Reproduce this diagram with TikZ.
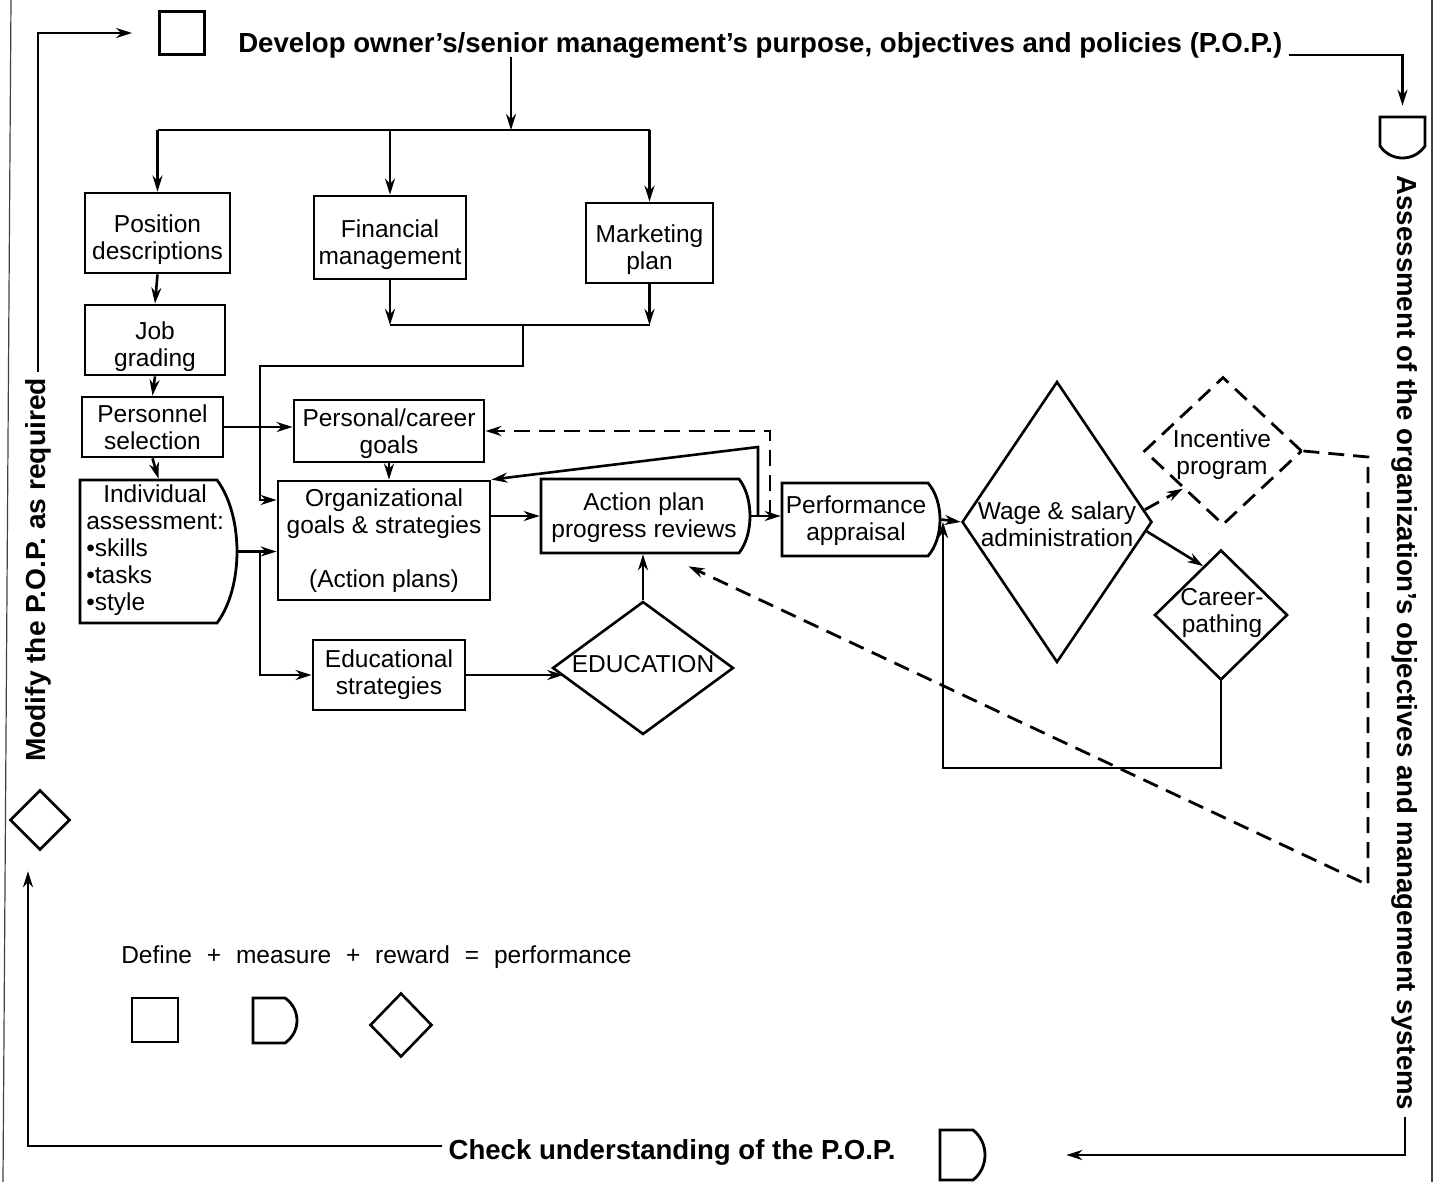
\documentclass[tikz,border=0pt]{standalone}
\usepackage{fontspec}
\setmainfont{Liberation Sans}
\usetikzlibrary{shapes.geometric,arrows.meta}
% D-shape with a bulge on the right
\newcommand\Dnode[6]{%
  \draw[line width=2.8pt] (#2,#3) -- ({#4-#6},#3) .. controls ({#4+#6/3},{#3+(#5-#3)/4}) and ({#4+#6/3},{#5-(#5-#3)/4}) .. ({#4-#6},#5) -- (#2,#5) -- cycle;
  \node[inner sep=0pt, minimum width={(#4-#2)*1pt}, minimum height={(#5-#3)*1pt}] (#1) at ({(#2+#4)/2},{(#3+#5)/2}) {};}
\begin{document}
\begin{tikzpicture}[x=1pt,y=-1pt,line width=2.6pt,
  box/.style={draw,line width=2.8pt,inner sep=0pt,align=center,font=\fontsize{24.5}{27}\selectfont},
  txt/.style={inner sep=0pt,align=center,font=\fontsize{24.5}{27}\selectfont},
  big/.style={inner sep=5pt,font=\fontsize{27.6}{32}\selectfont\bfseries},
  dia/.style={draw,diamond,line width=2.6pt,inner sep=0pt},
  arr/.style={-{Stealth[length=16pt,width=10pt]}},
  dsh/.style={line width=2.8pt,dash pattern=on 16pt off 9pt},
  pageedge/.style={line width=1.2pt,draw=black!75}]
\useasboundingbox (0,0) rectangle (1437,1182);

% page edges of the scan
\draw[pageedge] (11,0) -- (3,1182);
\draw[pageedge] (1432,0) -- (1432,1182);

% ---- outer loop ----
\node[box, minimum width=45pt, minimum height=43pt] (sq) at (182,33) {};
\node[big, anchor=west] (title) at (232,45) {Develop owner’s/senior management’s purpose, objectives and policies (P.O.P.)};
% top right D (bulge downward)
\draw[line width=2.8pt] (1380,146) -- (1380,117) -- (1425,117) -- (1425,146) .. controls (1414,162) and (1391,162) .. cycle;
\node[inner sep=0pt, minimum width=45pt, minimum height=41pt] (tD) at (1402.5,137.5) {};
\node[big, rotate=-90] (assess) at (1405,643) {Assessment of the organization’s objectives and management systems};
\Dnode{cD}{940}{1130}{985}{1180}{12}
\node[big] (check) at (672,1152) {Check understanding of the P.O.P.};
\node[dia, minimum width=60pt, minimum height=60pt] (ldia) at (40,820) {};
\node[big, rotate=90] (mod) at (38,570) {\scalebox{1.02}[1]{Modify the P.O.P. as required}};

\draw[arr] (mod.east) |- ([xshift=-26pt]sq.west);
\draw[arr] ([yshift=-10pt]title.east) -| ([yshift=10pt]tD.north);
\draw[arr] (assess.east) |- ([xshift=80pt]cD.east);
\draw[arr] ([yshift=6pt]check.west) -| ([xshift=-12pt,yshift=-20pt]ldia.south);

% ---- boxes ----
\node[box, minimum width=145pt, minimum height=80pt] (pos) at (157.5,233) {\rule{0pt}{32pt}Position\\descriptions};
\node[box, minimum width=152pt, minimum height=83pt] (fin) at (390,237.5) {\rule{0pt}{32pt}Financial\\management};
\node[box, minimum width=127pt, minimum height=80pt] (mkt) at (649.5,243) {\rule{0pt}{32pt}Marketing\\plan};
\node[box, minimum width=140pt, minimum height=70pt] (job) at (155,340) {\rule{0pt}{32pt}Job\\grading};
\node[box, minimum width=141pt, minimum height=60pt] (pers) at (152.5,427) {Personnel\\selection};
\node[box, minimum width=190pt, minimum height=62pt] (pc) at (389,431) {\rule{0pt}{24pt}Personal/career\\goals};
\node[box, minimum width=212pt, minimum height=119pt] (org) at (384,540.5) {Organizational\\goals \& strategies\\[27pt](Action plans)};
\node[box, minimum width=152pt, minimum height=70pt] (edu) at (389,675) {Educational\\strategies};

\Dnode{indiv}{80}{480}{237}{623}{20}
\node[txt, align=left, anchor=north west] (indivt) at (85,483) {\hspace{17pt}Individual\\assessment:\\•skills\\•tasks\\•style};
\Dnode{act}{541}{479}{750}{553}{11}
\node[txt] (actt) at (644,518) {Action plan\\progress reviews};
\Dnode{perf}{782}{483}{940}{556}{12}
\node[txt] (perft) at (856,521) {Performance\\appraisal};

% ---- diamonds ----
\node[dia, minimum width=190pt, minimum height=281pt] (wage) at (1057,522) {};
\node[txt] (waget) at (1057,524) {Wage \& salary\\administration};
\node[dia, dsh, minimum width=158pt, minimum height=148pt] (inc) at (1223,451) {};
\node[txt] (inct) at (1222,455) {Incentive\\program};
\node[dia, minimum width=133pt, minimum height=130pt] (car) at (1221,615) {};
\node[txt] (cart) at (1222,613) {Career-\\pathing};
\node[dia, minimum width=181pt, minimum height=133pt] (educ) at (643,668) {};
\node[txt] (educt) at (643,664) {EDUCATION};

% ---- legend ----
\node[txt, anchor=west] (legend) at (120,957) {Define\hspace{8pt} + \hspace{8pt}measure\hspace{8pt} + \hspace{8pt}reward\hspace{8pt} = \hspace{8pt}performance};
\node[box, minimum width=46pt, minimum height=44pt] (lsq) at (155,1020) {};
\Dnode{lD}{253}{998}{297}{1043}{12}
\node[dia, minimum width=62pt, minimum height=64pt] (ldi) at (401,1025) {};

% ---- connectors ----
\coordinate (j0) at (511,57);
\coordinate (j1) at (511,130);
\draw[arr] (j0) -- (j1);
\draw (pos.north |- j1) -- (mkt.north |- j1);
\draw[arr] (pos.north |- j1) -- (pos.north);
\draw[arr] (fin.north |- j1) -- (fin.north);
\draw[arr] (mkt.north |- j1) -- (mkt.north);

\coordinate (j2) at (523,325);
\coordinate (j3) at (260,366);
\draw[arr] (fin.south) -- (fin.south |- j2);
\draw[arr] (mkt.south) -- (mkt.south |- j2);
\draw (fin.south |- j2) -- (mkt.south |- j2);
\draw[arr] (j2) |- (j3) -- (j3 |- 0,500) -- (org.west |- 0,500);

\draw[arr] (pos.south) -- (job.north);
\draw[arr] (job.south) -- (pers.north);
\draw[arr] (pers.south) -- (indiv.north);
\draw[arr] (pers.east) -- (pers.east -| pc.west);
\draw[arr] (pc.south) -- (pc.south |- org.north);
\draw[arr] (indiv.east) -- (indiv.east -| org.west);
\coordinate (j4) at (indiv.east -| j3);
\draw[arr] (j4) |- (edu.west);
\draw[arr] (act.west -| org.east) -- (act.west);
\draw[arr] (act.east) -- (act.east -| perf.west);

\coordinate (j5) at (758,516);
\coordinate (j6) at (758,447);
\draw[arr] (j5) -- (j6) -- (org.north east);
\coordinate (j7) at (770,516);
\draw[arr, dsh] (j7) |- (pc.east);

\draw[arr] (perf.east) -- (wage.west);
\coordinate (j8) at (943,768);
\draw[arr] (car.south) |- (j8) -- (j8 |- wage.west);
\draw[arr, dsh] (wage.8) -- (inc.south west);
\draw[arr] (wage.-6) -- (car.110);

\coordinate (j9) at (1368,457);
\coordinate (j10) at (1368,885);
\draw[arr, dsh] (inc.east) -- (j9) -- (j10) -- ([xshift=43pt,yshift=-12pt]act.south);

\draw[arr] (edu.east) -- ([xshift=12pt]edu.east -| educ.west);
\draw[arr] (educ.north) -- (educ.north |- act.south);
\end{tikzpicture}
\end{document}
